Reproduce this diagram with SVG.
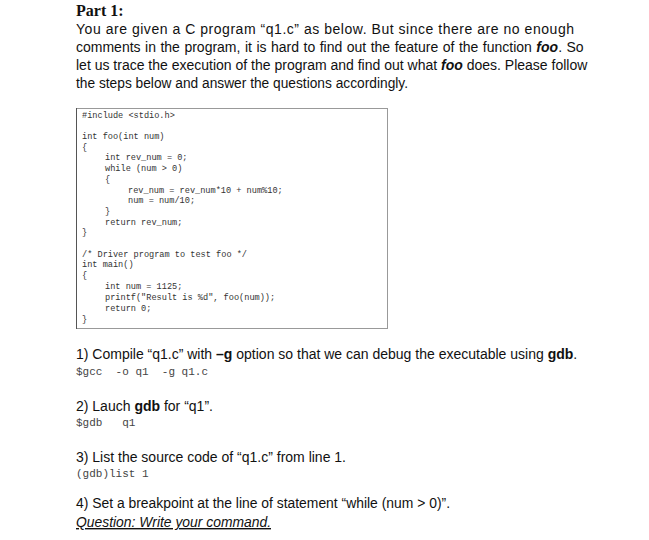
<svg xmlns="http://www.w3.org/2000/svg" width="649" height="540" viewBox="0 0 649 540">
<style>
.b{font-family:"Liberation Sans","Open Sans",sans-serif;font-size:14px;fill:#111}
.c{font-family:"Liberation Mono",monospace;font-size:8.6px;fill:#333}
.m{font-family:"Liberation Mono",monospace;font-size:11px;fill:#444}
</style>
<rect width="649" height="540" fill="#fff"/>
<text x="76" y="16" style="font-family:'Liberation Serif',serif;font-weight:bold;font-size:16px;fill:#111">Part 1:</text>
<text class="b" x="76" y="34" textLength="498" lengthAdjust="spacing">You are given a C program “q1.c” as below. But since there are no enough</text>
<text class="b" x="76" y="52" word-spacing="0.6">comments in the program, it is hard to find out the feature of the function <tspan font-weight="bold" font-style="italic">foo</tspan>. So</text>
<text class="b" x="76" y="70" font-size="13.6">let us trace the execution of the program and find out what <tspan font-weight="bold" font-style="italic">foo</tspan> does. Please follow</text>
<text class="b" x="76" y="88" textLength="332" lengthAdjust="spacingAndGlyphs">the steps below and answer the questions accordingly.</text>
<rect x="76.5" y="108.5" width="311" height="220" fill="none" stroke="#999" stroke-width="1"/>
<line x1="76.5" y1="108" x2="76.5" y2="329" stroke="#555"/>
<g class="c" xml:space="preserve">
<text class="c" x="82" y="118">#include &lt;stdio.h&gt;</text>
<text class="c" x="82" y="139">int foo(int num)</text>
<text class="c" x="82" y="150">{</text>
<text class="c" x="105" y="160">int rev_num = 0;</text>
<text class="c" x="105" y="171">while (num &gt; 0)</text>
<text class="c" x="105" y="182">{</text>
<text class="c" x="128" y="193">rev_num = rev_num*10 + num%10;</text>
<text class="c" x="128" y="203">num = num/10;</text>
<text class="c" x="105" y="214">}</text>
<text class="c" x="105" y="225">return rev_num;</text>
<text class="c" x="82" y="235">}</text>
<text class="c" x="82" y="257">/* Driver program to test foo */</text>
<text class="c" x="82" y="267">int main()</text>
<text class="c" x="82" y="278">{</text>
<text class="c" x="105" y="289">int num = 1125;</text>
<text class="c" x="105" y="300">printf("Result is %d", foo(num));</text>
<text class="c" x="105" y="311">return 0;</text>
<text class="c" x="82" y="322">}</text>
</g>
<text class="b" x="76" y="359" font-size="13.9">1)  Compile “q1.c” with <tspan font-weight="bold">–g</tspan> option so that we can debug the executable using <tspan font-weight="bold">gdb</tspan>.</text>
<text class="m" x="76" y="375" xml:space="preserve">$gcc  -o q1  -g q1.c</text>
<text class="b" x="76" y="411">2)  Lauch <tspan font-weight="bold">gdb</tspan> for “q1”.</text>
<text class="m" x="76" y="426" xml:space="preserve">$gdb   q1</text>
<text class="b" x="76" y="462" textLength="270" lengthAdjust="spacingAndGlyphs">3)  List the source code of “q1.c” from line 1.</text>
<text class="m" x="76" y="477">(gdb)list 1</text>
<text class="b" x="76" y="508" textLength="374" lengthAdjust="spacingAndGlyphs">4)  Set a breakpoint at the line of statement “while (num &gt; 0)”.</text>
<text class="b" x="76" y="527" font-style="italic" text-decoration="underline" textLength="195" lengthAdjust="spacingAndGlyphs">Question: Write your command.</text>
</svg>
